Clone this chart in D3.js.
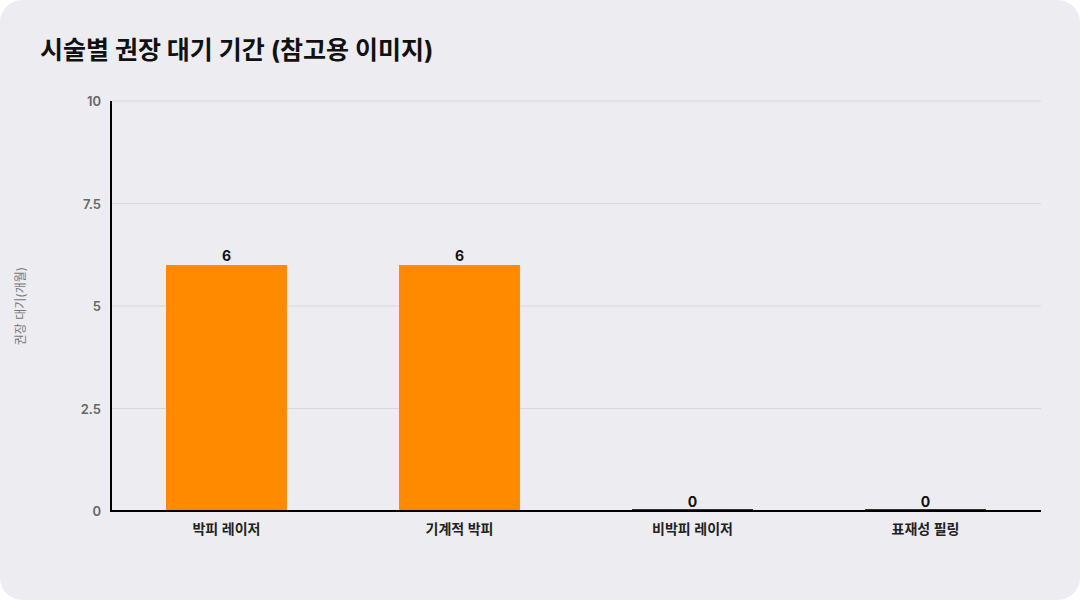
<!DOCTYPE html>
<html><head><meta charset="utf-8">
<script src="https://cdn.jsdelivr.net/npm/d3@7"></script>
<style>body{margin:0;background:#fff;font-family:Inter,"Noto Sans CJK KR",sans-serif}</style>
</head><body><svg id="c" width="1080" height="600"></svg>
<script>
const categories=["박피 레이저","기계적 박피","비박피 레이저","표재성 필링"];
const values=[6,6,0,0];
const yTicks=[0,2.5,5,7.5,10];
const svg=d3.select("#c");
const F='Inter,"Noto Sans CJK KR",sans-serif';
svg.append("rect").attr("width",1080).attr("height",600).attr("rx",22).attr("fill","#ededf1");
svg.append("text").attr("x",40).attr("y",59).attr("font-size",25).attr("font-weight",700).attr("fill","#111").attr("font-family",F).text("시술별 권장 대기 기간 (참고용 이미지)");
const x=d3.scaleBand().domain(categories).range([111,1041]).paddingInner(0.481).paddingOuter(0.236);
const y=d3.scaleLinear().domain([0,10]).range([511,101]);
const g=svg.append("g");
g.selectAll("line.grid").data(yTicks.filter(d=>d>0)).join("line").attr("x1",111).attr("x2",1041).attr("y1",d=>y(d)).attr("y2",d=>y(d)).attr("stroke","#d6d6dc");
g.selectAll("text.yt").data(yTicks).join("text").attr("x",101).attr("y",d=>y(d)+5).attr("text-anchor","end").attr("font-size",13).attr("font-weight",600).attr("fill","#666").attr("font-family",F).text(d=>d);
g.selectAll("rect.bar").data(values).join("rect").attr("x",(d,i)=>x(categories[i])).attr("width",x.bandwidth())
 .attr("y",d=>d>0?y(d):y(0)-2).attr("height",d=>d>0?y(0)-y(d):2).attr("fill",d=>d>0?"#ff8a00":"#333");
g.selectAll("text.v").data(values).join("text").attr("x",(d,i)=>x(categories[i])+x.bandwidth()/2).attr("y",d=>y(d)-4).attr("text-anchor","middle").attr("font-size",14).attr("font-weight",700).attr("fill","#111").attr("font-family",F).text(d=>d);
g.append("line").attr("x1",111).attr("x2",111).attr("y1",101).attr("y2",512).attr("stroke","#000").attr("stroke-width",2);
g.append("line").attr("x1",110).attr("x2",1041).attr("y1",511).attr("y2",511).attr("stroke","#000").attr("stroke-width",2);
g.selectAll("text.xt").data(categories).join("text").attr("x",d=>x(d)+x.bandwidth()/2).attr("y",534).attr("text-anchor","middle").attr("font-size",14).attr("font-weight",600).attr("fill","#222").attr("font-family",F).text(d=>d);
svg.append("text").attr("transform","translate(25,306) rotate(-90)").attr("text-anchor","middle").attr("font-size",12).attr("fill","#777").attr("font-family",F).text("권장 대기(개월)");
</script></body></html>
